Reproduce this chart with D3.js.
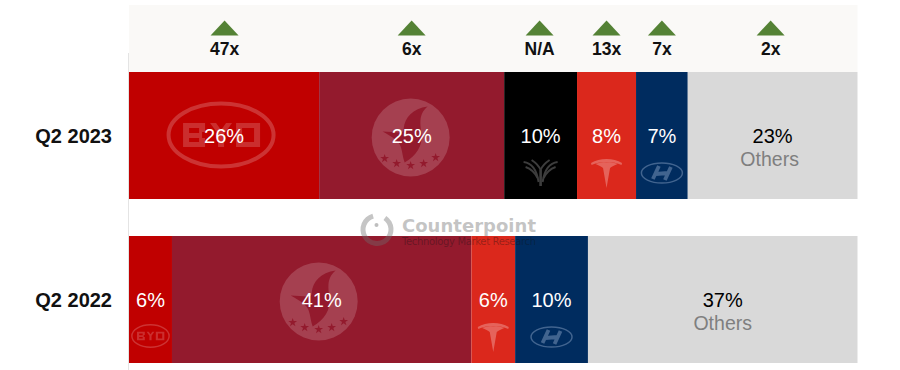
<!DOCTYPE html>
<html>
<head>
<meta charset="utf-8">
<script src="https://cdn.jsdelivr.net/npm/d3@7"></script>
<style>
  html, body { margin: 0; padding: 0; background: #fff; }
  svg { display: block; }
  text { font-family: "Liberation Sans", Arial, sans-serif; }
</style>
</head>
<body>
<script>
const width = 900, height = 370;

// shares, labels are the rounded figures printed on the bars
const quarters = ["Q2 2023", "Q2 2022"];
const brands2023 = ["byd", "swallow", "wing", "tesla", "hyundai", "others"];
const shares2023 = [26.1, 25.4, 10.0, 8.1, 7.1, 23.3];
const labels2023 = ["26%", "25%", "10%", "8%", "7%", "23%"];
const growth2023 = ["47x", "6x", "N/A", "13x", "7x", "2x"];
const brands2022 = ["byd", "swallow", "tesla", "hyundai", "others"];
const shares2022 = [5.9, 41.1, 6.0, 10.0, 37.0];
const labels2022 = ["6%", "41%", "6%", "10%", "37%"];

const brandColors = { byd: "#c00000", swallow: "#931a2d", wing: "#000000", tesla: "#db281c", hyundai: "#002c5f", others: "#d9d9d9" };

const x = d3.scaleLinear().domain([0, 100]).range([129, 857.5]);
const y = d3.scaleBand().domain(quarters).range([72, 363]).paddingInner(37 / 164);

const svg = d3.select("body").append("svg").attr("width", width).attr("height", height);

function segments(brands, shares, labels) {
    const ends = Array.from(d3.cumsum(shares));
    return brands.map((b, i) => ({ brand: b, start: ends[i] - shares[i], end: ends[i], label: labels[i] }));
}
const rows = [
    { quarter: quarters[0], segs: segments(brands2023, shares2023, labels2023) },
    { quarter: quarters[1], segs: segments(brands2022, shares2022, labels2022) }
];
const mid = (d) => (x(d.start) + x(d.end)) / 2;

// growth header band
svg.append("rect").attr("x", x(0)).attr("y", 5).attr("width", x(100) - x(0)).attr("height", y(quarters[0]) - 5).attr("fill", "#faf9f7");

// the header markers were placed by hand in the original, so they sit a touch off centre
const headerNudge = [0.5, 0, -1, 0, 0, -2];
const header = svg.append("g").selectAll("g").data(rows[0].segs).enter().append("g")
    .attr("transform", (d, i) => `translate(${mid(d) + headerNudge[i]},0)`);
header.append("path").attr("d", "M0,20.5L14,35.5L-14,35.5Z").attr("fill", "#548235");
header.append("text").attr("y", 54.5).attr("text-anchor", "middle").attr("font-size", 17.5).attr("font-weight", "bold").attr("fill", "#111")
    .text((d, i) => growth2023[i]);

// stacked bars
const row = svg.append("g").selectAll("g").data(rows).enter().append("g")
    .attr("transform", (d) => `translate(0,${y(d.quarter)})`);
const seg = row.selectAll("g").data((d) => d.segs).enter().append("g");
seg.append("rect")
    .attr("x", (d) => x(d.start))
    .attr("width", (d) => x(d.end) - x(d.start))
    .attr("height", y.bandwidth())
    .attr("fill", (d) => brandColors[d.brand]);

// brand logos, faint marks sitting on each segment
function drawBydLogo(g, k) {
    g.attr("fill", "#fff").attr("fill-opacity", 0.18);
    g.append("ellipse").attr("rx", 52.5 * k).attr("ry", 31.5 * k).attr("fill", "none")
        .attr("stroke", "#fff").attr("stroke-opacity", 0.2).attr("stroke-width", Math.max(1.2, 4 * k));
    g.append("path")
        .attr("d", "M-38,-12H-16V-3H-19V3H-16V12H-38Z M-32,-7V-2H-22V-7Z M-32,3V7H-22V3Z"
            + " M-11,-12H-5L0,-5L5,-12H11L3,-1V12H-3V-1Z"
            + " M15,-12H39V12H15Z M21,-7V7H33V-7Z")
        .attr("fill-rule", "evenodd")
        .attr("transform", `scale(${k})`);
}
function drawSwallowLogo(g, color) {
    g.append("circle").attr("r", 39).attr("fill", "#fff").attr("fill-opacity", 0.17);
    g.append("path")
        .attr("d", "M17,-31C2,-29 -6,-20 -7,-9C-7,-6 -8,-5 -11,-5L-28,-6C-18,0 -12,3 -10,9C-8,15 -8,20 -6,25C6,18 12,8 11,-3C10,-12 7,-23 17,-31Z")
        .attr("fill", color);
    const starPath = d3.symbol().type(d3.symbolStar).size(24);
    g.selectAll("path.star").data([[-26, 21], [-14, 26], [0, 28], [13, 26], [25, 20]]).enter().append("path")
        .attr("class", "star").attr("d", starPath).attr("transform", (p) => `translate(${p[0]},${p[1]})`).attr("fill", color);
}
function drawWingLogo(g) {
    g.attr("fill", "none").attr("stroke", "#3d3d3d").attr("stroke-width", 2);
    [1, -1].forEach((s) => {
        g.append("path").attr("d", `M${s * 17},-11C${s * 9},-10 ${s * 4},-4 ${s * 2},9`);
        g.append("path").attr("d", `M${s * 15},-6C${s * 9},-4 ${s * 5},1 ${s * 3},5`);
        g.append("path").attr("d", `M${s * 9},-13C${s * 6},-11 ${s * 2},-8 0,-3`);
    });
    g.append("path").attr("d", "M0,-3L0,13").attr("stroke-width", 2.6);
}
function drawTeslaLogo(g) {
    g.attr("fill", "#fff").attr("fill-opacity", 0.28);
    g.append("path").attr("d", "M-15.5,-9C-7,-14.5 7,-14.5 15.5,-9L15,-7C7,-11 -7,-11 -15,-7Z");
    g.append("path").attr("d", "M-11,-8C-6,-10.5 6,-10.5 11,-8C8,-6.5 5,-5.5 3.5,-4L0,16L-3.5,-4C-5,-5.5 -8,-6.5 -11,-8Z");
}
function drawHyundaiLogo(g) {
    g.append("ellipse").attr("rx", 20.5).attr("ry", 10).attr("fill", "none").attr("stroke", "#41648f").attr("stroke-width", 1.5);
    g.append("path").attr("d", "M-9,6L-3,-7 M3,7L9,-6 M-6,1L6,0").attr("fill", "none").attr("stroke", "#41648f").attr("stroke-width", 3.8);
}

// logo position relative to the segment centre and the bar top
seg.filter((d) => d.brand === "byd").append("g").each(function (d) {
    const wide = d.end - d.start > 20;
    const g = d3.select(this).attr("transform", `translate(${mid(d) + (wide ? -3 : 0)},${wide ? 63 : 100})`);
    drawBydLogo(g, wide ? 1 : 0.355);
});
seg.filter((d) => d.brand === "swallow").append("g").each(function (d) {
    const g = d3.select(this).attr("transform", `translate(${mid(d) - (d.end - d.start > 30 ? 3 : 1)},65.5)`);
    drawSwallowLogo(g, brandColors.swallow);
});
seg.filter((d) => d.brand === "wing").append("g").each(function (d) {
    drawWingLogo(d3.select(this).attr("transform", `translate(${mid(d)},101)`));
});
seg.filter((d) => d.brand === "tesla").append("g").each(function (d) {
    drawTeslaLogo(d3.select(this).attr("transform", `translate(${mid(d)},100)`));
});
seg.filter((d) => d.brand === "hyundai").append("g").each(function (d) {
    drawHyundaiLogo(d3.select(this).attr("transform", `translate(${mid(d)},101)`));
});

// share labels
seg.append("text")
    .attr("x", mid)
    .attr("y", 71)
    .attr("text-anchor", "middle")
    .attr("font-size", 20)
    .attr("fill", (d) => d.brand === "others" ? "#000" : "#fff")
    .text((d) => d.label);
seg.filter((d) => d.brand === "others").append("text")
    .attr("x", (d) => mid(d) - (d.end - d.start < 30 ? 3 : 0))
    .attr("y", 93.5)
    .attr("text-anchor", "middle")
    .attr("font-size", 19.5)
    .attr("fill", "#7f7f7f")
    .text("Others");

// quarter labels on a plain left axis
const axis = svg.append("g").attr("transform", `translate(${x(0)},0)`).call(d3.axisLeft(y).tickSize(0).tickPadding(17));
axis.select(".domain").attr("stroke", "#e4e4e4").attr("d", "M-0.5,53V370");
axis.selectAll("text").attr("font-family", "Liberation Sans").attr("font-size", 20).attr("font-weight", "bold").attr("fill", "#111").attr("dy", "0.35em");

// Counterpoint watermark sits on top of everything
const mark = svg.append("g").attr("pointer-events", "none");
mark.append("path").attr("transform", "translate(377,229.5)")
    .attr("d", d3.arc().innerRadius(11.5).outerRadius(16.5).startAngle(0.6).endAngle(6.0)())
    .attr("fill", "#6e6e6e").attr("fill-opacity", 0.4);
mark.append("circle").attr("cx", 376.5).attr("cy", 225).attr("r", 2).attr("fill", "#6e6e6e").attr("fill-opacity", 0.45);
mark.append("text").attr("x", 402).attr("y", 231.5).attr("font-size", 18).attr("font-weight", "bold")
    .attr("fill", "#8a8a8a").attr("fill-opacity", 0.5).attr("textLength", 134)
    .style("font-family", "DejaVu Sans").text("Counterpoint");
mark.append("text").attr("x", 402).attr("y", 245).attr("font-size", 10)
    .attr("fill", "#111").attr("fill-opacity", 0.35).attr("textLength", 134)
    .style("font-family", "DejaVu Sans").text("Technology Market Research");
</script>
</body>
</html>
